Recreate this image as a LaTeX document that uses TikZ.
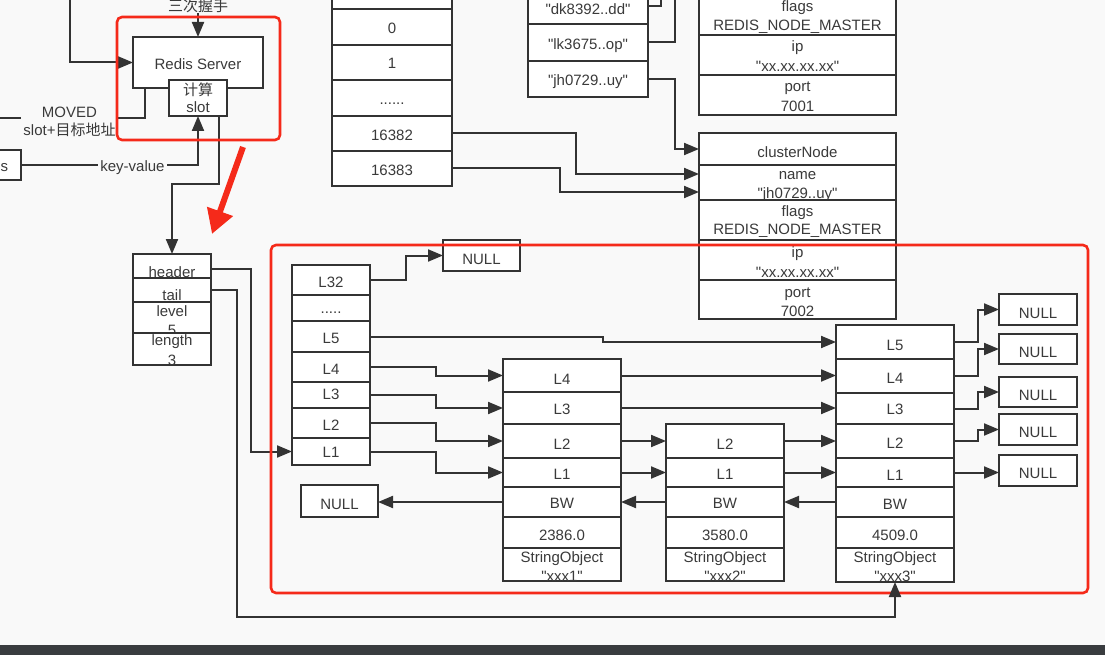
\documentclass[tikz,border=0pt]{standalone}
\usepackage{fontspec}
\newfontfamily\lsans{Liberation Sans}
\newfontfamily\cjk{Noto Sans CJK SC}
\usetikzlibrary{arrows.meta}
\definecolor{bg}{HTML}{F9F9F9}
\definecolor{ink}{HTML}{333333}
\definecolor{txtc}{HTML}{3A3A3A}
\definecolor{redc}{HTML}{F52A1A}
\definecolor{barc}{HTML}{393C3F}
\tikzset{
  cell/.style={draw=ink, line width=2.4pt, fill=white, inner sep=0pt, outer sep=0pt, rectangle},
  txt/.style={anchor=base, inner sep=0pt, text=txtc, font=\lsans\fontsize{15}{18}\selectfont},
  conn/.style={draw=ink, line width=2pt},
  arr/.style={conn, -{Triangle[length=15pt,width=12pt]}},
  lbl/.style={fill=bg, inner xsep=2pt, inner ysep=0pt, text=txtc, font=\lsans\fontsize{15}{18}\selectfont},
  redbox/.style={draw=redc, line width=2.6pt, rounded corners=5pt},
}
\newcommand\mkbox[5]{%
  \node[cell,minimum width={(#4)-(#2)},minimum height={(#5)-(#3)}] (#1) at ({((#2)+(#4))/2},{((#3)+(#5))/2}) {};}
\newcommand\mkcell[7]{%
  \mkbox{#1}{#2}{#3}{#4}{#5}%
  \node[txt] (#1-t) at ({((#2)+(#4))/2},#6) {#7};}
\newcommand\mkcellii[9]{%
  \mkbox{#1}{#2}{#3}{#4}{#5}%
  \node[txt] (#1-a) at ({((#2)+(#4))/2},#6) {#7};%
  \node[txt] (#1-b) at ({((#2)+(#4))/2},#8) {#9};}
\begin{document}
\begin{tikzpicture}[x=1pt,y=-1pt]
\fill[bg] (0,0) rectangle (1105,655);
\useasboundingbox (0,0) rectangle (1105,655);
\fill[barc] (0,645) rectangle (1105,655);

% ---- top left: Redis server
\mkcell{rs}{133}{37}{263}{88}{70}{Redis Server}
\mkcellii{slot}{169}{80}{227}{116}{96}{{\cjk 计算}}{113}{slot}
\node[txt] (sanci) at (198,12) {\cjk 三次握手};
\mkbox{sbox}{-60}{150}{21}{180}
\node[txt] (sbox-t) at (4.5,172) {s};

% ---- zskiplist header struct
\mkcell{hdrh}{133}{254}{211}{278}{277}{header}
\mkcell{hdrt}{133}{278}{211}{302}{300}{tail}
\mkcellii{hdrl}{133}{302}{211}{333}{316}{level}{335}{5}
\mkcellii{hdrn}{133}{333}{211}{365}{345}{length}{365.5}{3}

% ---- slots column
\mkbox{sltop}{332}{-30}{452}{9}
\mkcell{sl0}{332}{9}{452}{45}{34}{0}
\mkcell{sl1}{332}{45}{452}{80}{69}{1}
\mkcell{sld}{332}{80}{452}{116}{105}{......}
\mkcell{sl82}{332}{116}{452}{151}{140.5}{16382}
\mkcell{sl83}{332}{151}{452}{186}{176}{16383}

% ---- names column
\mkcell{dk}{528}{-12}{648}{24}{15}{"dk8392..dd"}
\mkcell{lk}{528}{24}{648}{61}{50}{"lk3675..op"}
\mkcell{jh}{528}{61}{648}{97}{86}{"jh0729..uy"}

% ---- clusterNode 7001 (partial)
\mkcellii{cna}{699}{-10}{896}{35}{12}{flags}{30.5}{REDIS\_NODE\_MASTER}
\mkcellii{cnb}{699}{35}{896}{75}{52}{ip}{72}{"xx.xx.xx.xx"}
\mkcellii{cnc}{699}{75}{896}{115}{92}{port}{112}{7001}

% ---- clusterNode 7002
\mkcell{cnT}{699}{133}{896}{165}{158}{clusterNode}
\mkcellii{cnN}{699}{165}{896}{200}{180}{name}{198.5}{"jh0729..uy"}
\mkcellii{cnF}{699}{200}{896}{240}{216}{flags}{234.5}{REDIS\_NODE\_MASTER}
\mkcellii{cnI}{699}{240}{896}{280}{257}{ip}{277}{"xx.xx.xx.xx"}
\mkcellii{cnP}{699}{280}{896}{319}{297}{port}{316}{7002}

% ---- skiplist header levels
\mkcell{lv32}{292}{265}{370}{295}{287}{L32}
\mkcell{lvd}{292}{295}{370}{321}{313}{.....}
\mkcell{lv5}{292}{321}{370}{352}{343}{L5}
\mkcell{lv4}{292}{352}{370}{382}{374}{L4}
\mkcell{lv3}{292}{382}{370}{408}{399}{L3}
\mkcell{lv2}{292}{408}{370}{438}{430}{L2}
\mkcell{lv1}{292}{438}{370}{465}{457.5}{L1}

\mkcell{nullT}{443}{240}{520}{271}{264}{NULL}
\mkcell{nullL}{301}{485}{378}{517}{509}{NULL}

% ---- node 1
\mkcell{naL4}{503}{359}{621}{392}{384}{L4}
\mkcell{naL3}{503}{392}{621}{424}{414}{L3}
\mkcell{naL2}{503}{424}{621}{458}{449}{L2}
\mkcell{naL1}{503}{458}{621}{487}{479}{L1}
\mkcell{nabw}{503}{487}{621}{517}{508}{BW}
\mkcell{nasc}{503}{517}{621}{548}{540.5}{2386.0}
\mkcellii{naso}{503}{548}{621}{581}{562}{StringObject}{581}{"xxx1"}

% ---- node 2
\mkcell{nbL2}{666}{424}{784}{458}{449}{L2}
\mkcell{nbL1}{666}{458}{784}{487}{479}{L1}
\mkcell{nbbw}{666}{487}{784}{517}{508}{BW}
\mkcell{nbsc}{666}{517}{784}{548}{540.5}{3580.0}
\mkcellii{nbso}{666}{548}{784}{581}{562}{StringObject}{581}{"xxx2"}

% ---- node 3
\mkcell{ncL5}{836}{325}{954}{359}{350}{L5}
\mkcell{ncL4}{836}{359}{954}{393}{383}{L4}
\mkcell{ncL3}{836}{393}{954}{424}{414}{L3}
\mkcell{ncL2}{836}{424}{954}{458}{448}{L2}
\mkcell{ncL1}{836}{458}{954}{487}{480}{L1}
\mkcell{ncbw}{836}{487}{954}{517}{509}{BW}
\mkcell{ncsc}{836}{517}{954}{548}{540}{4509.0}
\mkcellii{ncso}{836}{548}{954}{582}{562}{StringObject}{581}{"xxx3"}

% ---- right NULLs
\mkcell{nr1}{999}{294}{1077}{325}{318}{NULL}
\mkcell{nr2}{999}{334}{1077}{364}{357}{NULL}
\mkcell{nr3}{999}{377}{1077}{407}{400}{NULL}
\mkcell{nr4}{999}{414}{1077}{445}{437.5}{NULL}
\mkcell{nr5}{999}{455}{1077}{486}{478.5}{NULL}

% ---- connectors: top left
\coordinate (c-top) at (70,-5);
\draw[arr] (c-top) |- (rs.west);
\draw[arr] (sanci.south) -- (rs.north);
\coordinate (c-mv) at (-5,118);
\draw[conn] ([xshift=12pt]rs.south west) |- (c-mv);
\node[lbl,align=center,anchor=north] (mvl) at (69.5,107.3) {MOVED\\slot+{\cjk 目标地址}};
\draw[arr] (sbox.east) -| (slot.south);
\node[lbl,anchor=base] (kvl) at (132.5,172) {key-value};
\draw[arr] ([xshift=-8pt]slot.south east) -- ++(0,68) -| (hdrh.north);

% ---- connectors: slots / names to clusterNode
\draw[arr] (sl82.east) -- ++(124,0) |- ([yshift=8.5pt]cnN.west);
\draw[arr] (sl83.east) -- ++(108,0) |- ([yshift=-9.5pt]cnN.west);
\coordinate (c-dk) at (661,-5);
\coordinate (c-lk) at (675,-5);
\draw[conn] (dk.east) -| (c-dk);
\draw[conn] (lk.east) -| (c-lk);
\draw[arr] (jh.east) -- ++(27,0) |- (cnT.west);

% ---- connectors: skiplist
\draw[arr] ([yshift=-3pt]hdrh.east) -- ++(40,0) |- (lv1.west);
\draw[arr] (lv32.east) -- ++(36,0) |- (nullT.west);
\draw[arr] (lv5.east) -- ++(233,0) |- (ncL5.west);
\draw[arr] (lv4.east) -- ++(66,0) |- (naL4.west);
\draw[arr] (lv3.east) -- ++(66,0) |- (naL3.west);
\draw[arr] (lv2.east) -- ++(66,0) |- (naL2.west);
\draw[arr] (lv1.east) -- ++(66,0) |- (naL1.west);
\draw[arr] (nabw.west) -- (nabw.west -| nullL.east);
\draw[arr] (naL4.east) -- (naL4.east -| ncL4.west);
\draw[arr] (naL3.east) -- (naL3.east -| ncL3.west);
\draw[arr] (naL2.east) -- (nbL2.west);
\draw[arr] (naL1.east) -- (nbL1.west);
\draw[arr] (nbL2.east) -- (ncL2.west);
\draw[arr] (nbL1.east) -- (ncL1.west);
\draw[arr] (nbbw.west) -- (nabw.east);
\draw[arr] (ncbw.west) -- (nbbw.east);
\draw[arr] (ncL5.east) -- ++(24,0) |- (nr1.west);
\draw[arr] (ncL4.east) -- ++(24,0) |- (nr2.west);
\draw[arr] (ncL3.east) -- ++(24,0) |- (nr3.west);
\draw[arr] (ncL2.east) -- ++(24,0) |- (nr4.west);
\draw[arr] (ncL1.east) -- (ncL1.east -| nr5.west);

% ---- red highlights
\draw[redbox] (117,17) rectangle (280,140);
\draw[redbox] (271,245) rectangle (1088,593);
\coordinate (ra1) at (243,147);
\coordinate (ra2) at (212,234);
\draw[redc, line width=6pt, -{Triangle[length=24pt,width=26pt]}] (ra1) -- (ra2);

% ---- tail pointer (drawn over the red frame)
\draw[arr] (hdrt.east) -- ++(26,0) -- ++(0,327) -| (ncso.south);
\end{tikzpicture}
\end{document}
